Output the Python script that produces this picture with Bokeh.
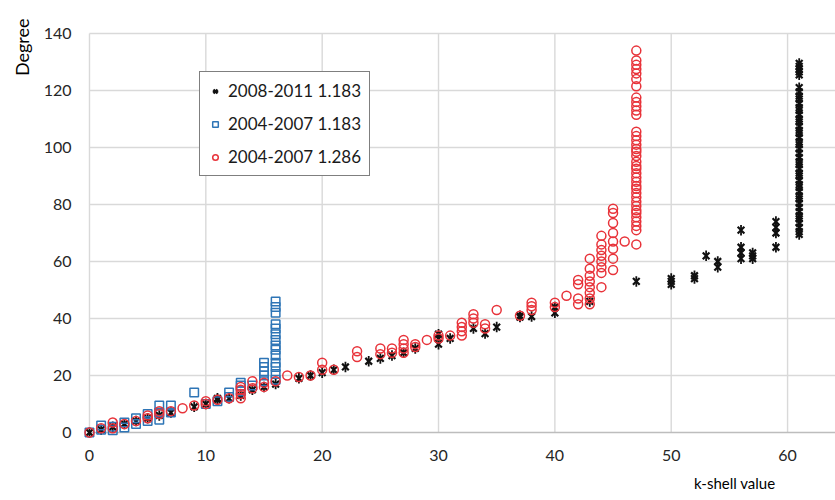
import math

from bokeh.embed import file_html
from bokeh.models import (ColumnDataSource, FixedTicker, Legend, LegendItem,
                          Range1d, Title)
from bokeh.plotting import figure
from bokeh.resources import INLINE

# ---- data: k-shell value vs. node degree --------------------------------
# 2008-2011, exponent 1.183
k_0811 = [0, 1, 2, 3, 4, 5, 6, 7, 9, 10, 11, 11, 12, 13, 14, 15, 16, 18, 19,
          20, 21, 22, 24, 25, 26, 27, 28, 30, 30, 30, 31, 33, 34, 35, 37, 37,
          38, 40, 40, 43, 47, 50, 50, 50, 52, 52, 53, 54, 54, 56, 56, 56, 56,
          57, 57, 57, 59, 59, 59, 59]
deg_0811 = [0, 1, 2, 3, 4, 5, 6, 7, 9, 10, 11.5, 12, 12, 13, 15, 16, 17, 19,
            20, 21, 22, 23, 25, 26, 27, 28, 29.5, 31, 33, 34.5, 33, 36.5, 34.7,
            37, 40.5, 41, 40.7, 42, 44, 46, 53, 52, 53, 54, 54, 55, 62, 58, 60,
            61, 63, 65, 71, 61, 62, 63, 65, 70, 72, 74]
# innermost shell (k = 61) of 2008-2011
deg_0811_core = [129.5, 128.5, 127.5, 126.5, 125.5,
                 121, 119.5, 118, 117, 115.5, 114, 113, 111.5, 110, 109,
                 107.5, 106, 105, 103.5, 102, 101, 99.5, 98, 96.5, 95, 94,
                 92.5, 91, 90, 88.5, 87, 86, 84.5, 83, 82, 80.5, 79, 77.5, 76,
                 75, 73.5, 72, 70.5, 69.5]
k_0811_core = 61

# 2004-2007, exponent 1.183
k_0407_a = [0, 1, 1, 2, 2, 3, 3, 4, 4, 5, 5, 6, 6, 6, 7, 7, 9, 10, 11, 12,
            12, 13, 13, 13, 14, 15, 15, 15, 15, 15]
deg_0407_a = [0, 1, 2.5, 0.8, 2, 1.8, 3.5, 3, 5, 4, 6.5, 4.5, 7, 9.5, 7, 9.5,
              14, 10, 11, 12.5, 14, 14.5, 16.5, 17.5, 16.5, 18, 20, 21.5, 23,
              24.5]
deg_0407_a_core = [18.5, 20.5, 23, 24.5, 27, 29, 30.5, 32.5, 34.5, 36.5, 38,
                   42, 44, 46]
k_0407_a_core = 16

# 2004-2007, exponent 1.286
k_0407_b = [0, 1, 2, 2, 3, 4, 5, 5, 6, 6, 7, 8, 9, 10, 10, 11, 12, 13, 13,
            13, 13, 14, 14, 15, 15, 16, 17, 18, 19, 20, 20, 21, 23, 23, 25,
            25, 26, 26, 27, 27, 27, 27, 28, 28, 29, 30, 30, 31, 32, 32, 32,
            32, 33, 33, 33, 34, 34, 35, 37, 38, 38, 38, 40, 40, 41, 42, 42,
            42, 42, 43, 43, 43, 43, 43, 43, 43, 43, 44, 44, 44, 44, 44, 44,
            44, 44, 45, 45, 45, 45, 45, 45, 45, 45, 46]
deg_0407_b = [0, 1.5, 1.5, 3.5, 3, 4, 5, 6, 6.5, 7.5, 7.5, 8.5, 9.5, 10, 11,
              11.5, 12, 12, 13.5, 15, 16, 15.5, 18, 16, 17.5, 18, 20, 19.5,
              20, 22, 24.5, 22, 26.5, 28.5, 27.5, 29.5, 28, 29.5, 28, 29.5,
              31, 32.5, 30, 31, 32.5, 33, 34, 34, 34, 35.5, 37, 38.5, 38.5,
              40, 41.5, 36.5, 38, 43, 41, 43, 44.3, 45.5, 44, 45.5, 48, 45,
              47, 52, 53.5, 45, 47, 49, 51, 53, 55, 57.5, 61, 51, 56, 58, 60,
              62, 64, 66, 69, 57, 61, 64.5, 67, 70, 73.5, 77, 78.5, 67]
deg_0407_b_core = [134, 130.5, 129, 127.5, 126, 124, 121.5, 117.5, 116, 114.5,
                   113, 111.5, 105.5, 104, 102.5, 101, 99.5, 98.5, 97, 95,
                   93.5, 92.5, 91, 89.5, 88, 86.5, 85.5, 84, 82.5, 81, 79.5,
                   78, 77, 75.5, 74, 72.5, 71, 66]
k_0407_b_core = 47

series_labels = ["2008-2011 1.183", "2004-2007 1.183", "2004-2007 1.286"]
x_ticks = [0, 10, 20, 30, 40, 50, 60]
y_ticks = [0, 20, 40, 60, 80, 100, 120, 140]

# ---- figure ---------------------------------------------------------------
X_END = 64.12
FONT = "Lato"
INK = "#262626"

p = figure(width=835, height=500, output_backend="svg", toolbar_location=None,
           x_range=Range1d(-0.6, X_END), y_range=Range1d(-2.1, 141.75),
           min_border_left=81, min_border_right=0,
           min_border_top=28, min_border_bottom=62)
p.outline_line_color = None
p.background_fill_color = "white"
p.border_fill_color = "white"
p.xgrid.visible = False
p.ygrid.visible = False

for ax in (p.xaxis[0], p.yaxis[0]):
    ax.axis_line_color = None
    ax.major_tick_line_color = None
    ax.minor_tick_line_color = None
    ax.major_tick_out = 0
    ax.major_tick_in = 0
    ax.minor_tick_out = 0
    ax.minor_tick_in = 0
    ax.major_label_text_font = FONT
    ax.major_label_text_font_size = "16px"
    ax.major_label_text_color = INK
p.xaxis.ticker = FixedTicker(ticks=x_ticks)
p.yaxis.ticker = FixedTicker(ticks=y_ticks)
p.xaxis.major_label_standoff = 11
p.yaxis.major_label_standoff = 11

# gridlines bounded to the 0..140 / 0..end plot area, plus the x baseline
p.segment(x0=x_ticks, y0=0, x1=x_ticks, y1=y_ticks[-1],
          line_color="#D9D9D9", line_width=1.4)
p.segment(x0=0, y0=y_ticks[1:], x1=X_END, y1=y_ticks[1:],
          line_color="#D9D9D9", line_width=1.4)
p.segment(x0=[0], y0=[0], x1=[X_END], y1=[0],
          line_color="#BDBDBD", line_width=1.6)

# ---- series ---------------------------------------------------------------
src_a = ColumnDataSource(dict(
    k=k_0811 + [k_0811_core] * len(deg_0811_core),
    deg=deg_0811 + deg_0811_core))
src_b = ColumnDataSource(dict(
    k=k_0407_a + [k_0407_a_core] * len(deg_0407_a_core),
    deg=deg_0407_a + deg_0407_a_core))
src_c = ColumnDataSource(dict(
    k=k_0407_b + [k_0407_b_core] * len(deg_0407_b_core),
    deg=deg_0407_b + deg_0407_b_core))

black = "#111111"
r_star_x = p.scatter("k", "deg", source=src_a, marker="x", size=9.5,
                     line_color=black, line_width=2.2)
r_star_v = p.scatter("k", "deg", source=src_a, marker="dash", size=10.5,
                     angle=math.pi / 2, line_color=black, line_width=1.8)
r_sq = p.scatter("k", "deg", source=src_b, marker="square", size=8.5,
                 fill_color=None, line_color="#2E75B6", line_width=1.5)
r_ci = p.scatter("k", "deg", source=src_c, marker="circle", size=9,
                 fill_color=None, line_color="#E8333A", line_width=1.5)

legend = Legend(items=[
    LegendItem(label=series_labels[0], renderers=[r_star_x, r_star_v]),
    LegendItem(label=series_labels[1], renderers=[r_sq]),
    LegendItem(label=series_labels[2], renderers=[r_ci]),
], location=(117, 262))
legend.label_text_font = FONT
legend.label_text_font_size = "17px"
legend.label_text_color = "#1A1A1A"
legend.border_line_color = "black"
legend.border_line_width = 1.5
legend.background_fill_color = "white"
legend.background_fill_alpha = 1.0
legend.padding = 8
legend.spacing = 12
legend.margin = 0
legend.glyph_width = 14
legend.glyph_height = 20
legend.label_height = 20
legend.label_standoff = 6
p.add_layout(legend, "center")

# ---- axis titles ----------------------------------------------------------
p.add_layout(Title(text="Degree", align="right", offset=-10,
                   text_font=FONT, text_font_size="18px",
                   text_font_style="normal", text_color="black",
                   standoff=16), "left")
p.add_layout(Title(text="k-shell value", align="right", offset=60,
                   text_font=FONT, text_font_size="15px",
                   text_font_style="normal", text_color="black",
                   standoff=16), "below")

open("out.html", "w").write(file_html(p, INLINE))
